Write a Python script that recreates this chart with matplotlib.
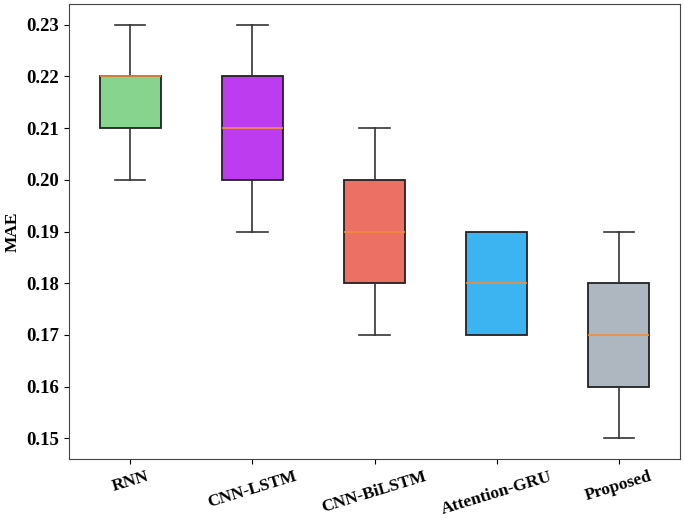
import matplotlib
matplotlib.use("Agg")
import matplotlib.pyplot as plt

models = ['RNN', 'CNN-LSTM', 'CNN-BiLSTM', 'Attention-GRU', 'Proposed']
# five-number summaries
mins    = [0.20, 0.19, 0.17, 0.17, 0.15]
q1s     = [0.21, 0.20, 0.18, 0.17, 0.16]
medians = [0.22, 0.21, 0.19, 0.18, 0.17]
q3s     = [0.22, 0.22, 0.20, 0.19, 0.18]
maxs    = [0.23, 0.23, 0.21, 0.19, 0.19]
colors  = ['#87d48e', '#bd3cf0', '#ec7063', '#3cb4f2', '#aeb6bf']

plt.rcParams['font.family'] = ['Liberation Serif', 'DejaVu Serif']

stats = []
for i in range(len(models)):
    stats.append({'label': models[i], 'whislo': mins[i], 'q1': q1s[i],
                  'med': medians[i], 'q3': q3s[i], 'whishi': maxs[i], 'fliers': []})

fig = plt.figure(figsize=(6.85, 5.18), dpi=100)
ax = fig.add_axes([69/685, 59/518, 611/685, 455/518])

bp = ax.bxp(stats, widths=0.5, patch_artist=True, showfliers=False,
            boxprops=dict(linewidth=1.3, edgecolor='#222222'),
            whiskerprops=dict(linewidth=1.2, color='#333333'),
            capprops=dict(linewidth=1.2, color='#333333'),
            medianprops=dict(linewidth=1.2, color='#f28c3a'))
for patch, c in zip(bp['boxes'], colors):
    patch.set_facecolor(c)

ax.set_ylabel('MAE', fontsize=12.5, fontweight='bold')
ax.set_yticks([0.15, 0.16, 0.17, 0.18, 0.19, 0.20, 0.21, 0.22, 0.23])
ax.set_yticklabels(['%.2f' % v for v in ax.get_yticks()], fontsize=13.5, fontweight='bold')
ax.set_xticklabels(models, fontsize=12.5, fontweight='bold', rotation=17)
for sp in ax.spines.values():
    sp.set_color('#444444')

plt.savefig('out.png', dpi=100)
